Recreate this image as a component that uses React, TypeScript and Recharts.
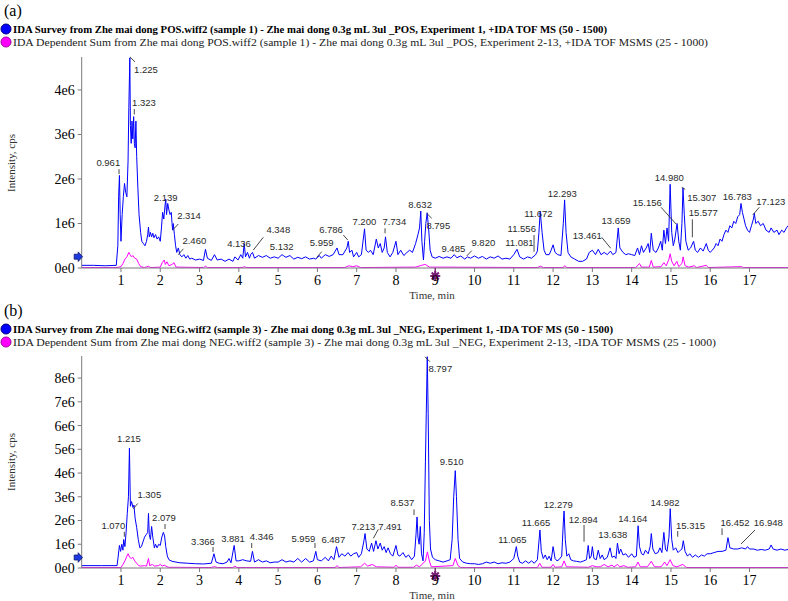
import React from 'react';
import { LineChart, Line, XAxis, YAxis, ReferenceDot, ReferenceLine } from 'recharts';

const SERIF = "'Liberation Serif', 'Times New Roman', serif";
const SANS = "'Liberation Sans', Arial, sans-serif";

// ---- axes ----
const timeTicks = [1, 2, 3, 4, 5, 6, 7, 8, 9, 10, 11, 12, 13, 14, 15, 16, 17];
const timeMax = 17.98;
const posIntensityTicks = [0, 1, 2, 3, 4]; // x1e6
const negIntensityTicks = [0, 1, 2, 3, 4, 5, 6, 7, 8]; // x1e6
const posIntensityMax = 4.74;
const negIntensityMax = 8.93;

// ---- legend texts ----
const posLegend = [
  'IDA Survey from Zhe mai dong POS.wiff2 (sample 1) - Zhe mai dong 0.3g mL 3ul _POS, Experiment 1, +IDA TOF MS (50 - 1500)',
  'IDA Dependent Sum from Zhe mai dong POS.wiff2 (sample 1) - Zhe mai dong 0.3g mL 3ul _POS, Experiment 2-13, +IDA TOF MSMS (25 - 1000)',
];
const negLegend = [
  'IDA Survey from Zhe mai dong NEG.wiff2 (sample 3) - Zhe mai dong 0.3g mL 3ul _NEG, Experiment 1, -IDA TOF MS (50 - 1500)',
  'IDA Dependent Sum from Zhe mai dong NEG.wiff2 (sample 3) - Zhe mai dong 0.3g mL 3ul _NEG, Experiment 2-13, -IDA TOF MSMS (25 - 1000)',
];

type Pt = [number, number];

// ---- (a) POS: [time min, intensity x1e6] ----
const posSurvey: Pt[] = [
  [0, 0.06], [0.3, 0.06], [0.6, 0.05], [0.88, 0.06], [0.92, 0.5], [0.94, 1.6], [0.961, 2.08], [0.98, 1.2], [1.0, 0.6],
  [1.03, 1.2], [1.06, 1.6], [1.09, 1.9], [1.12, 1.7], [1.15, 1.6], [1.18, 2.4], [1.2, 3.6], [1.225, 4.72], [1.24, 3.2],
  [1.26, 2.8], [1.28, 3.3], [1.3, 2.9], [1.323, 3.4], [1.34, 2.8], [1.36, 2.7], [1.38, 3.3], [1.4, 2.5], [1.43, 1.8],
  [1.46, 1.2], [1.5, 0.8], [1.53, 0.6], [1.57, 0.55], [1.61, 0.5], [1.65, 0.6], [1.68, 0.75], [1.7, 0.92], [1.72, 0.7],
  [1.75, 0.8], [1.78, 0.7], [1.81, 0.78], [1.84, 0.68], [1.88, 0.75], [1.92, 0.65], [1.96, 0.7], [2.0, 0.6], [2.03, 0.9],
  [2.06, 1.25], [2.09, 1.1], [2.11, 1.3], [2.139, 1.55], [2.16, 1.2], [2.19, 1.45], [2.22, 1.3], [2.25, 1.2], [2.28, 1.25],
  [2.3, 1.0], [2.314, 0.85], [2.33, 1.0], [2.36, 0.75], [2.39, 0.5], [2.42, 0.35], [2.46, 0.45], [2.5, 0.3], [2.55, 0.25],
  [2.6, 0.3], [2.65, 0.22], [2.7, 0.28], [2.75, 0.2], [2.8, 0.22], [2.9, 0.18], [3.0, 0.2], [3.1, 0.17], [3.15, 0.42],
  [3.2, 0.22], [3.3, 0.17], [3.38, 0.3], [3.45, 0.18], [3.55, 0.2], [3.65, 0.15], [3.75, 0.2], [3.85, 0.15], [3.9, 0.25],
  [3.98, 0.18], [4.05, 0.3], [4.1, 0.22], [4.136, 0.55], [4.17, 0.25], [4.22, 0.35], [4.27, 0.22], [4.3, 0.3], [4.348, 0.35],
  [4.4, 0.22], [4.5, 0.28], [4.6, 0.24], [4.7, 0.28], [4.8, 0.22], [4.9, 0.25], [5.0, 0.22], [5.1, 0.3], [5.132, 0.28],
  [5.2, 0.24], [5.3, 0.28], [5.4, 0.2], [5.5, 0.24], [5.6, 0.21], [5.7, 0.25], [5.8, 0.2], [5.9, 0.22], [5.959, 0.2],
  [6.05, 0.28], [6.1, 0.22], [6.2, 0.3], [6.3, 0.26], [6.4, 0.3], [6.5, 0.45], [6.55, 0.3], [6.65, 0.3], [6.75, 0.45],
  [6.786, 0.6], [6.82, 0.35], [6.88, 0.4], [6.92, 0.25], [7.0, 0.35], [7.05, 0.25], [7.12, 0.3], [7.2, 0.88], [7.24, 0.4],
  [7.3, 0.35], [7.35, 0.4], [7.42, 0.3], [7.5, 0.65], [7.55, 0.45], [7.6, 0.55], [7.65, 0.35], [7.7, 0.45], [7.734, 0.7],
  [7.78, 0.35], [7.85, 0.25], [7.92, 0.35], [8.0, 0.6], [8.05, 0.3], [8.12, 0.4], [8.2, 0.28], [8.28, 0.35], [8.35, 0.4],
  [8.42, 0.35], [8.5, 0.55], [8.56, 0.75], [8.6, 0.9], [8.632, 1.28], [8.66, 0.6], [8.7, 0.18], [8.73, 0.6], [8.76, 1.0],
  [8.795, 1.24], [8.83, 0.9], [8.87, 0.4], [8.92, 0.25], [9.0, 0.22], [9.1, 0.26], [9.2, 0.22], [9.3, 0.25], [9.4, 0.22],
  [9.485, 0.3], [9.55, 0.23], [9.65, 0.27], [9.75, 0.2], [9.82, 0.25], [9.9, 0.22], [10.0, 0.27], [10.1, 0.22], [10.2, 0.26],
  [10.3, 0.2], [10.4, 0.25], [10.5, 0.22], [10.6, 0.27], [10.7, 0.2], [10.8, 0.22], [10.9, 0.2], [11.0, 0.3], [11.081, 0.42],
  [11.15, 0.25], [11.25, 0.2], [11.35, 0.25], [11.45, 0.22], [11.556, 0.3], [11.6, 0.38], [11.64, 0.8], [11.672, 1.27],
  [11.72, 0.8], [11.77, 0.4], [11.82, 0.3], [11.9, 0.3], [11.95, 0.4], [12.0, 0.52], [12.05, 0.35], [12.12, 0.3], [12.2, 0.28],
  [12.26, 1.0], [12.293, 1.53], [12.33, 0.8], [12.38, 0.35], [12.45, 0.25], [12.55, 0.2], [12.65, 0.15], [12.75, 0.15],
  [12.85, 0.2], [12.92, 0.35], [13.0, 0.4], [13.08, 0.3], [13.15, 0.42], [13.22, 0.3], [13.3, 0.35], [13.38, 0.3],
  [13.461, 0.38], [13.52, 0.3], [13.6, 0.35], [13.659, 0.9], [13.7, 0.45], [13.78, 0.35], [13.85, 0.3], [13.92, 0.32],
  [14.0, 0.3], [14.08, 0.28], [14.15, 0.45], [14.2, 0.3], [14.25, 0.5], [14.3, 0.35], [14.37, 0.45], [14.42, 0.55],
  [14.46, 0.35], [14.5, 0.78], [14.55, 0.4], [14.62, 0.35], [14.68, 0.45], [14.74, 0.6], [14.78, 0.4], [14.82, 0.85],
  [14.86, 0.55], [14.9, 0.9], [14.94, 0.6], [14.98, 1.88], [15.02, 0.8], [15.06, 0.5], [15.1, 0.65], [15.156, 1.0],
  [15.2, 0.6], [15.24, 0.4], [15.28, 1.0], [15.307, 1.8], [15.34, 1.2], [15.38, 0.6], [15.44, 0.4], [15.5, 0.45],
  [15.577, 0.6], [15.62, 0.4], [15.68, 0.35], [15.75, 0.45], [15.82, 0.38], [15.9, 0.55], [15.95, 0.4], [16.0, 0.35],
  [16.05, 0.4], [16.1, 0.45], [16.15, 0.55], [16.2, 0.5], [16.25, 0.65], [16.3, 0.6], [16.35, 0.75], [16.4, 0.85],
  [16.45, 0.8], [16.5, 0.95], [16.55, 0.9], [16.6, 1.05], [16.65, 1.0], [16.7, 1.15], [16.75, 1.2], [16.783, 1.45],
  [16.82, 1.25], [16.86, 1.1], [16.9, 0.95], [16.95, 0.85], [17.0, 0.8], [17.05, 0.95], [17.1, 1.1], [17.123, 1.23],
  [17.16, 1.0], [17.22, 1.05], [17.28, 0.95], [17.35, 1.0], [17.42, 0.85], [17.5, 0.8], [17.55, 0.9], [17.62, 0.8],
  [17.7, 0.85], [17.75, 0.75], [17.82, 0.85], [17.88, 0.8], [17.94, 0.9], [17.98, 0.95],
];

const posDependent: Pt[] = [
  [0, 0.01], [0.9, 0.01], [1.0, 0.03], [1.05, 0.1], [1.1, 0.2], [1.15, 0.25], [1.2, 0.35], [1.23, 0.3], [1.27, 0.25],
  [1.3, 0.28], [1.35, 0.22], [1.4, 0.2], [1.45, 0.1], [1.5, 0.03], [1.6, 0.01], [1.7, 0.04], [1.75, 0.01], [2.0, 0.02],
  [2.05, 0.12], [2.1, 0.18], [2.13, 0.08], [2.17, 0.14], [2.22, 0.05], [2.3, 0.08], [2.35, 0.12], [2.4, 0.02], [3.1, 0.01],
  [3.15, 0.04], [3.2, 0.01], [4.1, 0.01], [4.14, 0.03], [4.2, 0.01], [6.7, 0.01], [6.8, 0.05], [6.9, 0.03], [7.0, 0.05],
  [7.1, 0.01], [8.5, 0.02], [8.65, 0.06], [8.75, 0.08], [8.85, 0.02], [11.6, 0.01], [11.68, 0.04], [11.75, 0.01],
  [12.25, 0.01], [12.3, 0.05], [12.35, 0.01], [14.1, 0.01], [14.2, 0.1], [14.25, 0.02], [14.45, 0.02], [14.5, 0.17],
  [14.55, 0.02], [14.75, 0.03], [14.82, 0.12], [14.88, 0.05], [14.95, 0.2], [14.98, 0.32], [15.02, 0.15], [15.08, 0.05],
  [15.15, 0.15], [15.2, 0.03], [15.28, 0.1], [15.31, 0.25], [15.36, 0.05], [15.45, 0.02], [15.6, 0.05], [15.65, 0.01],
  [15.9, 0.06], [15.95, 0.01], [16.8, 0.03], [16.85, 0.01], [17.98, 0.01],
];

// ---- (b) NEG ----
const negSurvey: Pt[] = [
  [0, 0.1], [0.5, 0.1], [0.9, 0.1], [0.93, 0.5], [0.96, 0.95], [0.99, 0.7], [1.02, 1.0], [1.05, 0.75], [1.07, 1.2],
  [1.1, 0.9], [1.13, 1.5], [1.16, 2.3], [1.19, 3.0], [1.215, 5.05], [1.24, 2.6], [1.27, 2.8], [1.305, 2.55], [1.33, 2.65],
  [1.36, 2.1], [1.4, 1.7], [1.44, 1.2], [1.48, 0.85], [1.52, 0.9], [1.56, 1.1], [1.6, 1.3], [1.64, 1.4], [1.68, 1.5],
  [1.7, 2.3], [1.72, 1.4], [1.75, 1.2], [1.78, 1.75], [1.81, 1.3], [1.85, 0.85], [1.88, 1.0], [1.92, 0.85], [1.96, 1.0],
  [2.0, 0.95], [2.04, 1.3], [2.079, 1.5], [2.11, 1.35], [2.14, 0.9], [2.18, 0.5], [2.22, 0.35], [2.3, 0.28], [2.4, 0.25],
  [2.5, 0.22], [2.7, 0.2], [2.9, 0.18], [3.1, 0.17], [3.3, 0.2], [3.366, 0.6], [3.42, 0.25], [3.5, 0.2], [3.6, 0.18],
  [3.7, 0.25], [3.75, 0.4], [3.8, 0.22], [3.881, 0.95], [3.93, 0.3], [4.0, 0.3], [4.1, 0.35], [4.2, 0.3], [4.3, 0.28],
  [4.346, 0.7], [4.4, 0.25], [4.5, 0.35], [4.6, 0.25], [4.7, 0.3], [4.8, 0.22], [4.9, 0.25], [5.0, 0.25], [5.1, 0.35],
  [5.2, 0.25], [5.3, 0.3], [5.4, 0.25], [5.5, 0.4], [5.6, 0.25], [5.7, 0.4], [5.8, 0.25], [5.9, 0.3], [5.959, 0.7],
  [6.0, 0.35], [6.1, 0.3], [6.2, 0.45], [6.28, 0.3], [6.35, 0.5], [6.42, 0.35], [6.487, 0.9], [6.55, 0.45], [6.62, 0.6],
  [6.7, 0.5], [6.78, 0.65], [6.85, 0.5], [6.92, 0.6], [7.0, 0.65], [7.05, 0.45], [7.12, 0.6], [7.18, 1.1], [7.213, 1.45],
  [7.26, 0.8], [7.32, 0.7], [7.38, 1.05], [7.43, 0.7], [7.491, 1.15], [7.54, 0.8], [7.6, 1.05], [7.65, 0.75], [7.7, 0.9],
  [7.75, 0.65], [7.8, 0.85], [7.86, 0.6], [7.92, 0.5], [8.0, 0.95], [8.05, 0.55], [8.1, 0.5], [8.18, 0.65], [8.25, 0.45],
  [8.32, 0.55], [8.4, 0.35], [8.47, 0.5], [8.51, 1.4], [8.537, 2.15], [8.56, 1.3], [8.59, 1.0], [8.62, 1.75], [8.65, 0.6],
  [8.69, 0.3], [8.72, 1.5], [8.75, 4.5], [8.797, 8.9], [8.82, 6.5], [8.85, 2.0], [8.88, 0.8], [8.93, 0.45], [9.0, 0.35],
  [9.1, 0.3], [9.2, 0.25], [9.3, 0.3], [9.38, 0.35], [9.43, 1.2], [9.47, 3.0], [9.51, 4.1], [9.54, 3.0], [9.58, 1.2],
  [9.62, 0.4], [9.7, 0.25], [9.8, 0.2], [9.9, 0.18], [10.0, 0.18], [10.1, 0.15], [10.2, 0.18], [10.3, 0.25], [10.4, 0.2],
  [10.5, 0.25], [10.6, 0.18], [10.7, 0.22], [10.8, 0.2], [10.9, 0.25], [11.0, 0.4], [11.065, 0.9], [11.1, 0.5],
  [11.15, 0.25], [11.22, 0.2], [11.3, 0.3], [11.38, 0.2], [11.45, 0.3], [11.52, 0.2], [11.6, 0.35], [11.665, 1.6],
  [11.7, 0.7], [11.75, 0.4], [11.8, 0.55], [11.85, 0.35], [11.9, 0.5], [11.95, 0.3], [12.0, 0.9], [12.05, 0.4], [12.1, 0.3],
  [12.15, 0.35], [12.22, 0.5], [12.26, 1.9], [12.279, 2.4], [12.31, 1.2], [12.35, 0.5], [12.4, 0.6], [12.45, 0.35],
  [12.52, 0.3], [12.6, 0.28], [12.7, 0.25], [12.78, 0.3], [12.85, 0.35], [12.894, 0.95], [12.93, 0.4], [12.97, 0.5],
  [13.0, 0.9], [13.04, 0.4], [13.1, 0.35], [13.15, 0.75], [13.2, 0.4], [13.25, 0.55], [13.3, 0.35], [13.38, 0.45],
  [13.45, 0.85], [13.5, 0.45], [13.56, 0.5], [13.6, 0.4], [13.638, 1.05], [13.68, 0.6], [13.72, 0.8], [13.78, 0.55],
  [13.85, 0.6], [13.92, 0.45], [14.0, 0.6], [14.06, 0.45], [14.12, 0.5], [14.164, 1.78], [14.2, 0.9], [14.25, 0.6],
  [14.3, 0.55], [14.35, 0.75], [14.42, 0.6], [14.47, 0.9], [14.5, 1.45], [14.54, 0.8], [14.6, 0.6], [14.67, 0.65],
  [14.72, 0.85], [14.77, 0.65], [14.82, 1.5], [14.86, 0.8], [14.9, 0.7], [14.95, 1.3], [14.982, 2.5], [15.02, 1.2],
  [15.06, 0.75], [15.12, 0.85], [15.18, 0.65], [15.24, 0.75], [15.28, 0.8], [15.315, 1.15], [15.36, 0.7], [15.42, 0.5],
  [15.48, 0.6], [15.55, 0.45], [15.62, 0.55], [15.7, 0.45], [15.78, 0.55], [15.85, 0.5], [15.92, 0.6], [16.0, 0.6],
  [16.1, 0.65], [16.2, 0.7], [16.3, 0.7], [16.4, 0.75], [16.452, 1.28], [16.5, 0.85], [16.6, 0.8], [16.7, 0.8],
  [16.8, 0.85], [16.9, 0.8], [16.95, 0.9], [17.0, 0.8], [17.1, 0.8], [17.2, 0.75], [17.3, 0.78], [17.4, 0.75],
  [17.5, 0.8], [17.55, 0.97], [17.6, 0.8], [17.7, 0.75], [17.8, 0.8], [17.9, 0.75], [17.98, 0.78],
];

const negDependent: Pt[] = [
  [0, 0.02], [1.0, 0.02], [1.05, 0.15], [1.1, 0.3], [1.15, 0.5], [1.18, 0.6], [1.22, 0.45], [1.26, 0.4], [1.3, 0.45],
  [1.35, 0.3], [1.4, 0.2], [1.45, 0.1], [1.5, 0.08], [1.6, 0.1], [1.65, 0.08], [1.7, 0.4], [1.73, 0.1], [1.8, 0.15],
  [1.85, 0.08], [1.95, 0.1], [2.0, 0.15], [2.05, 0.08], [2.1, 0.12], [2.2, 0.03], [3.3, 0.02], [3.38, 0.06], [3.45, 0.02],
  [3.85, 0.02], [3.9, 0.08], [3.95, 0.02], [6.45, 0.02], [6.5, 0.1], [6.55, 0.02], [7.1, 0.05], [7.2, 0.2], [7.28, 0.08],
  [7.4, 0.15], [7.5, 0.05], [7.95, 0.03], [8.0, 0.12], [8.05, 0.03], [8.45, 0.03], [8.52, 0.12], [8.6, 0.05], [8.75, 0.3],
  [8.8, 0.68], [8.85, 0.3], [8.9, 0.05], [9.45, 0.1], [9.51, 0.4], [9.58, 0.1], [9.65, 0.02], [11.6, 0.02], [11.66, 0.2],
  [11.72, 0.03], [11.95, 0.03], [12.0, 0.15], [12.05, 0.03], [12.22, 0.05], [12.28, 0.3], [12.34, 0.05], [12.9, 0.03],
  [13.0, 0.1], [13.1, 0.05], [13.2, 0.05], [13.3, 0.15], [13.4, 0.05], [13.5, 0.12], [13.55, 0.05], [13.64, 0.15],
  [13.7, 0.05], [13.8, 0.1], [13.9, 0.03], [14.1, 0.05], [14.16, 0.25], [14.22, 0.05], [14.4, 0.05], [14.5, 0.28],
  [14.58, 0.05], [14.75, 0.05], [14.84, 0.25], [14.9, 0.1], [14.98, 0.35], [15.05, 0.1], [15.15, 0.05], [15.3, 0.15],
  [15.4, 0.02], [17.98, 0.02],
];

// ---- peak annotations: [label, label time, label intensity x1e6] ----
const posPeakLabels: [string, number, number][] = [
  ['0.961', 0.677, 2.36], ['1.225', 1.637, 4.455], ['1.323', 1.586, 3.72], ['2.139', 2.138, 1.58], ['2.314', 2.732, 1.17],
  ['2.460', 2.867, 0.613], ['4.136', 4.005, 0.557], ['4.348', 5.005, 0.854], ['5.132', 5.092, 0.479], ['5.959', 6.11, 0.568],
  ['6.786', 6.347, 0.869], ['7.200', 7.195, 1.04], ['7.734', 7.958, 1.04], ['8.632', 8.613, 1.431], ['8.795', 9.078, 0.944],
  ['9.485', 9.46, 0.443], ['9.820', 10.224, 0.568], ['11.081', 11.14, 0.568], ['11.556', 11.202, 0.892], ['11.672', 11.624, 1.229],
  ['12.293', 12.235, 1.678], ['13.461', 12.872, 0.741], ['13.659', 13.602, 1.078], ['15.156', 14.399, 1.467],
  ['14.980', 14.959, 2.029], ['15.307', 15.784, 1.579], ['15.577', 15.825, 1.242], ['16.783', 16.69, 1.602], ['17.123', 17.54, 1.49],
];
// leader lines: [t1, v1, t2, v2]
const posLeaders: [number, number, number, number][] = [
  [0.95, 2.22, 0.95, 2.11], [1.23, 4.74, 1.357, 4.63], [1.339, 3.57, 1.339, 3.45], [2.317, 0.854, 2.459, 0.989],
  [2.459, 0.299, 2.587, 0.431], [4.369, 0.404, 4.623, 0.69], [5.983, 0.24, 6.11, 0.366], [6.66, 0.741, 6.772, 0.629],
  [7.722, 0.892, 7.722, 0.78], [8.783, 1.229, 8.91, 1.117], [9.801, 0.27, 9.929, 0.389], [11.515, 0.741, 11.515, 0.366],
  [13.238, 0.69, 13.467, 0.443], [14.748, 1.364, 15.13, 0.989], [15.275, 1.813, 15.359, 1.768], [15.545, 1.094, 15.545, 0.69],
  [17.082, 1.191, 17.25, 1.364],
];
const negPeakLabels: [string, number, number][] = [
  ['1.070', 0.804, 1.81], ['1.215', 1.204, 5.47], ['1.305', 1.721, 3.09], ['2.079', 2.095, 2.147], ['3.366', 3.088, 1.137],
  ['3.881', 3.852, 1.263], ['4.346', 4.582, 1.318], ['5.959', 5.642, 1.25], ['6.487', 6.405, 1.208], ['7.213', 7.169, 1.768],
  ['7.491', 7.849, 1.768], ['8.537', 8.162, 2.749], ['8.797', 9.129, 8.408], ['9.510', 9.419, 4.505], ['11.065', 10.962, 1.221],
  ['11.665', 11.566, 1.907], ['12.279', 12.133, 2.682], ['12.894', 12.77, 2.063], ['13.638', 13.518, 1.419],
  ['14.164', 14.027, 2.093], ['14.982', 14.85, 2.749], ['15.315', 15.499, 1.81], ['16.452', 16.632, 1.907], ['16.948', 17.48, 1.907],
];
const negLeaders: [number, number, number, number][] = [
  [1.085, 1.528, 1.085, 1.318], [1.314, 2.497, 1.426, 2.716], [2.121, 1.853, 2.121, 1.642], [3.343, 0.884, 3.343, 0.674],
  [4.328, 1.053, 4.328, 0.842], [5.939, 1.053, 5.939, 0.842], [7.424, 1.25, 7.551, 1.629], [8.46, 2.47, 8.46, 2.23],
  [8.74, 8.897, 8.867, 8.686], [12.788, 1.81, 12.788, 1.107], [15.173, 1.558, 15.173, 1.318], [16.301, 1.672, 16.301, 1.389],
  [16.784, 1.011, 17.14, 1.6],
];

// markers
const posArrowLevel = 0.254;
const negArrowLevel = 0.442;
const markerTime = 9;

const toRows = (pts: Pt[]) => pts.map(([t, v]) => ({ t, v: v * 1e6 }));
const fmtY = (v: number) => (v === 0 ? '0e0' : `${Math.round(v / 1e6)}e6`);

const Arrow = (p: any) => {
  const { cx, cy } = p;
  const pts = [
    [cx - 7.5, cy - 2.5], [cx - 3.5, cy - 2.5], [cx - 3.5, cy - 4.8], [cx + 0.8, cy],
    [cx - 3.5, cy + 4.8], [cx - 3.5, cy + 2.5], [cx - 7.5, cy + 2.5],
  ].map((q) => q.join(',')).join(' ');
  return <polygon points={pts} fill="#1d3ae0" stroke="#0a1470" strokeWidth={0.8} />;
};

const Asterisk = (p: any) => {
  const { cx, cy } = p;
  const c = cy + 8;
  const r = 5;
  return (
    <g stroke="#7a1d78" strokeWidth={2}>
      <line x1={cx} y1={cy} x2={cx} y2={c} strokeWidth={1.2} />
      {[0, 45, 90, 135].map((a) => {
        const dx = Math.cos((a * Math.PI) / 180) * r;
        const dy = Math.sin((a * Math.PI) / 180) * r;
        return <line key={a} x1={cx - dx} y1={c - dy} x2={cx + dx} y2={c + dy} />;
      })}
      <circle cx={cx} cy={c} r={2} fill="#7a1d78" />
    </g>
  );
};

interface PanelProps {
  height: number;
  plotTop: number;
  axisHeight: number;
  yMax: number;
  yTicks: number[];
  survey: Pt[];
  dependent: Pt[];
  peaks: [string, number, number][];
  leaders: [number, number, number, number][];
  arrowLevel: number;
}

function Panel(p: PanelProps) {
  return (
    <LineChart width={788} height={p.height} margin={{ top: p.plotTop, right: 0, bottom: 0, left: 0 }}>
      <XAxis
        type="number"
        dataKey="t"
        domain={[0, timeMax]}
        ticks={timeTicks}
        interval={0}
        allowDataOverflow
        height={p.axisHeight}
        tickSize={4}
        tickMargin={3}
        stroke="#7a7a7a"
        tick={{ fill: '#000', fontSize: 14, fontFamily: SERIF }}
      />
      <YAxis
        type="number"
        domain={[0, p.yMax * 1e6]}
        ticks={p.yTicks.map((v) => v * 1e6)}
        interval={0}
        allowDataOverflow
        width={81.7}
        tickSize={4}
        tickMargin={3}
        stroke="#7a7a7a"
        tickFormatter={fmtY}
        tick={{ fill: '#000', fontSize: 14, fontFamily: SERIF }}
      />
      <Line data={toRows(p.survey)} dataKey="v" type="linear" stroke="#0000ff" strokeWidth={1} dot={false} activeDot={false} isAnimationActive={false} />
      <Line data={toRows(p.dependent)} dataKey="v" type="linear" stroke="#ff00ff" strokeWidth={1} dot={false} activeDot={false} isAnimationActive={false} />
      {p.leaders.map(([t1, v1, t2, v2], i) => (
        <ReferenceLine
          key={`l${i}`}
          segment={[{ x: t1, y: v1 * 1e6 }, { x: t2, y: v2 * 1e6 }]}
          stroke="#333"
          strokeWidth={0.9}
          ifOverflow="visible"
        />
      ))}
      {p.peaks.map(([lab, t, v]) => (
        <ReferenceDot
          key={lab}
          x={t}
          y={v * 1e6}
          r={1}
          ifOverflow="visible"
          shape={(sp: any) => (
            <text x={sp.cx} y={sp.cy} textAnchor="middle" dominantBaseline="central" fontSize={9.5} fontFamily={SANS} fill="#2a2a2a">
              {lab}
            </text>
          )}
        />
      ))}
      <ReferenceDot x={0} y={p.arrowLevel * 1e6} r={1} ifOverflow="visible" shape={Arrow} />
      <ReferenceDot x={markerTime} y={0} r={1} ifOverflow="visible" shape={Asterisk} />
    </LineChart>
  );
}

function Legend({ top, tag, lines, lens }: { top: number; tag: string; lines: string[]; lens: number[] }) {
  return (
    <g>
      <text x={4} y={top + 10} dominantBaseline="central" fontSize={16} fontFamily={SERIF} fill="#000">{tag}</text>
      <circle cx={6} cy={top + 29} r={5} fill="#0000ff" stroke="#000080" strokeWidth={1} />
      <text x={13} y={top + 29} dominantBaseline="central" fontSize={11} fontWeight="bold" fontFamily={SERIF} fill="#000" textLength={lens[0]} lengthAdjust="spacingAndGlyphs">{lines[0]}</text>
      <circle cx={6} cy={top + 42} r={5} fill="#ff00ff" stroke="#a000a0" strokeWidth={1} />
      <text x={13} y={top + 42} dominantBaseline="central" fontSize={11} fontFamily={SERIF} fill="#222" textLength={lens[1]} lengthAdjust="spacingAndGlyphs">{lines[1]}</text>
    </g>
  );
}

export default function App() {
  return (
    <div style={{ position: 'absolute', left: 0, top: 0, width: 788, height: 601, background: '#fff', overflow: 'hidden' }}>
      <div style={{ position: 'absolute', left: 0, top: 0 }}>
        <Panel height={300} plotTop={57} axisHeight={32} yMax={posIntensityMax} yTicks={posIntensityTicks}
          survey={posSurvey} dependent={posDependent} peaks={posPeakLabels} leaders={posLeaders} arrowLevel={posArrowLevel} />
      </div>
      <div style={{ position: 'absolute', left: 0, top: 300 }}>
        <Panel height={301} plotTop={56} axisHeight={33} yMax={negIntensityMax} yTicks={negIntensityTicks}
          survey={negSurvey} dependent={negDependent} peaks={negPeakLabels} leaders={negLeaders} arrowLevel={negArrowLevel} />
      </div>
      <svg width={788} height={601} style={{ position: 'absolute', left: 0, top: 0, pointerEvents: 'none' }}>
        <Legend top={0} tag="(a)" lines={posLegend} lens={[594, 695]} />
        <Legend top={300} tag="(b)" lines={negLegend} lens={[600, 703]} />
        <text transform="translate(11,163) rotate(-90)" textAnchor="middle" dominantBaseline="central" fontSize={11} fontFamily={SERIF} fill="#333">Intensity, cps</text>
        <text transform="translate(11,462) rotate(-90)" textAnchor="middle" dominantBaseline="central" fontSize={11} fontFamily={SERIF} fill="#333">Intensity, cps</text>
        <text x={432} y={295} textAnchor="middle" dominantBaseline="central" fontSize={11} fontFamily={SERIF} fill="#333">Time, min</text>
        <text x={432} y={595} textAnchor="middle" dominantBaseline="central" fontSize={11} fontFamily={SERIF} fill="#333">Time, min</text>
      </svg>
    </div>
  );
}
